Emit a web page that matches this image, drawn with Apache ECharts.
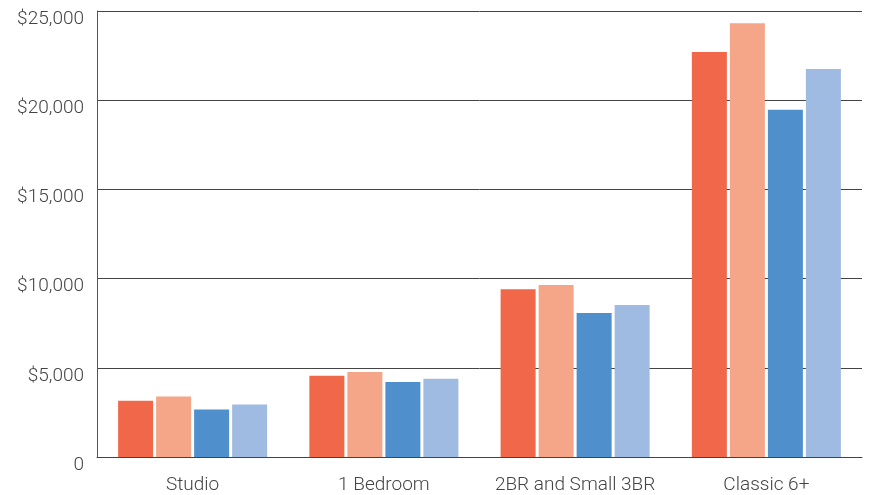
<!DOCTYPE html>
<html>
<head>
<meta charset="utf-8">
<script src="https://cdn.jsdelivr.net/npm/echarts@6/dist/echarts.min.js"></script>
<style>html,body{margin:0;padding:0;background:#fff}#c{width:876px;height:495px}</style>
</head>
<body>
<div id="c"></div>
<script>
const categories = ['Studio', '1 Bedroom', '2BR and Small 3BR', 'Classic 6+'];
const seriesA = [3160, 4550, 9410, 22700];
const seriesB = [3390, 4770, 9640, 24310];
const seriesC = [2660, 4210, 8070, 19460];
const seriesD = [2940, 4380, 8520, 21750];
const yTicks = [0, 5000, 10000, 15000, 20000, 25000];

const colors = ['#F0674A', '#F5A688', '#4F8FCB', '#A0BBE1'];
const chart = echarts.init(document.getElementById('c'));
const mk = (data, i) => ({
  type: 'bar', data: data, barWidth: 35, barGap: '8.6%',
  itemStyle: { color: colors[i] }, silent: true
});
const font = { color: '#444', fontSize: 19, fontFamily: 'Roboto', fontWeight: 300 };
chart.setOption({
  animation: false,
  grid: { left: 97, right: 14, top: 11, bottom: 36 },
  xAxis: {
    type: 'category', data: categories,
    axisLine: { lineStyle: { color: '#444', width: 1 } },
    axisTick: { inside: true, length: 11, lineStyle: { color: '#444' } },
    axisLabel: Object.assign({ interval: 0, margin: 19 }, font)
  },
  yAxis: {
    type: 'value', min: yTicks[0], max: yTicks[yTicks.length - 1], interval: 5000,
    axisLine: { show: true, lineStyle: { color: '#555', width: 1 } },
    axisTick: { show: false },
    splitLine: { lineStyle: { color: '#444', width: 1 } },
    axisLabel: Object.assign({
      margin: 13, verticalAlign: 'top', lineHeight: 16,
      formatter: v => v === 0 ? '0' : '$' + v.toLocaleString('en-US')
    }, font)
  },
  series: [mk(seriesA, 0), mk(seriesB, 1), mk(seriesC, 2), mk(seriesD, 3)]
});
</script>
</body>
</html>
